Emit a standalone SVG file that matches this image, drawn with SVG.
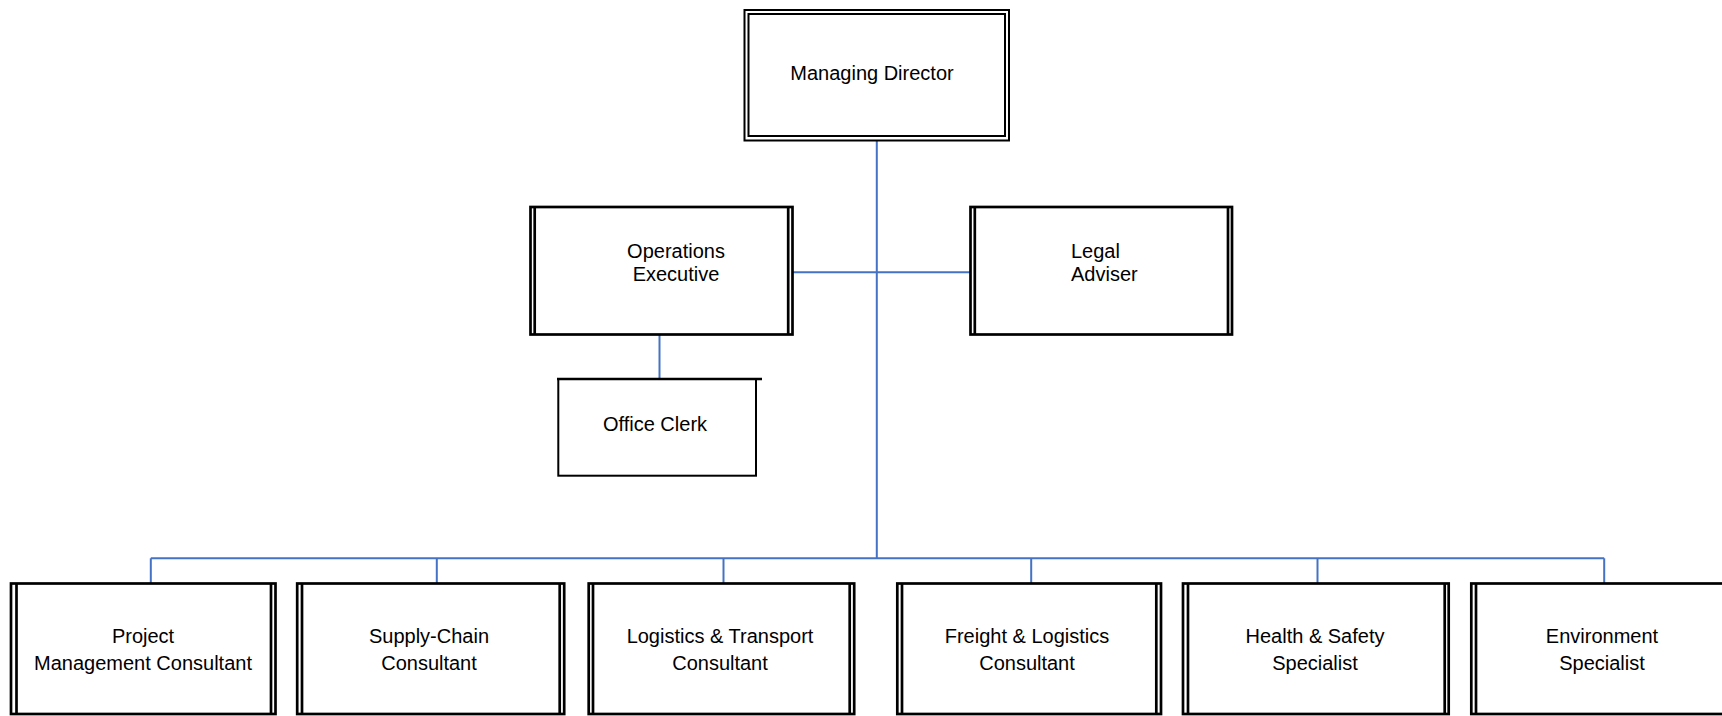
<svg xmlns="http://www.w3.org/2000/svg" width="1722" height="716" viewBox="0 0 1722 716">
<style>
.bx{fill:#fff;stroke:#000;stroke-width:2.7}
.ln{stroke:#000;stroke-width:2.7}
.thin{fill:none;stroke:#000;stroke-width:2}
.c{fill:none;stroke:#4472C4;stroke-width:2}
text{font-family:"Liberation Sans",Arial,sans-serif;font-size:20px;fill:#000}
.m{text-anchor:middle}
</style>
<rect width="1722" height="716" fill="#fff"/>
<g id="connectors">
<line class="c" x1="876.8" y1="141" x2="876.8" y2="559"/>
<line class="c" x1="793" y1="272.3" x2="970" y2="272.3" stroke-width="2.7"/>
<line class="c" x1="659.5" y1="335" x2="659.5" y2="378" stroke-width="2.4"/>
<line class="c" x1="150.8" y1="558.3" x2="1604.2" y2="558.3"/>
<line class="c" x1="150.8" y1="558.3" x2="150.8" y2="583"/>
<line class="c" x1="436.8" y1="558.3" x2="436.8" y2="583"/>
<line class="c" x1="723.5" y1="558.3" x2="723.5" y2="583"/>
<line class="c" x1="1031.2" y1="558.3" x2="1031.2" y2="583"/>
<line class="c" x1="1317.5" y1="558.3" x2="1317.5" y2="583"/>
<line class="c" x1="1604.2" y1="558.3" x2="1604.2" y2="583"/>
</g>
<g id="managing-director">
<rect x="744.5" y="10" width="264.5" height="130.5" fill="#fff" stroke="#000" stroke-width="2"/>
<rect x="748.5" y="14" width="256.5" height="122" class="thin"/>
<text class="m" x="872" y="80">Managing Director</text>
</g>
<g id="operations-executive">
<rect class="bx" x="530.5" y="207" width="262" height="127.5"/>
<line class="ln" x1="534.7" y1="207" x2="534.7" y2="334.5"/>
<line class="ln" x1="788.2" y1="207" x2="788.2" y2="334.5"/>
<text class="m" x="676" y="258">Operations</text>
<text class="m" x="676" y="281">Executive</text>
</g>
<g id="legal-adviser">
<rect class="bx" x="970.5" y="207" width="261.5" height="127.5"/>
<line class="ln" x1="974.8" y1="207" x2="974.8" y2="334.5"/>
<line class="ln" x1="1228" y1="207" x2="1228" y2="334.5"/>
<text x="1071" y="258">Legal</text>
<text x="1071" y="281">Adviser</text>
</g>
<g id="office-clerk">
<rect x="558.3" y="379" width="197.7" height="96.7" fill="#fff" stroke="#000" stroke-width="2"/>
<line class="ln" x1="557" y1="379" x2="762" y2="379"/>
<text class="m" x="655" y="431">Office Clerk</text>
</g>
<g id="project-management-consultant">
<rect class="bx" x="11" y="583.5" width="264.5" height="130.5"/>
<line class="ln" x1="16.5" y1="583.5" x2="16.5" y2="714"/>
<line class="ln" x1="271" y1="583.5" x2="271" y2="714"/>
<text class="m" x="143" y="643">Project</text>
<text class="m" x="143" y="670">Management Consultant</text>
</g>
<g id="supply-chain-consultant">
<rect class="bx" x="297.2" y="583.5" width="267" height="130.5"/>
<line class="ln" x1="302" y1="583.5" x2="302" y2="714"/>
<line class="ln" x1="559.7" y1="583.5" x2="559.7" y2="714"/>
<text class="m" x="429" y="643">Supply-Chain</text>
<text class="m" x="429" y="670">Consultant</text>
</g>
<g id="logistics-transport-consultant">
<rect class="bx" x="588.7" y="583.5" width="265.5" height="130.5"/>
<line class="ln" x1="593" y1="583.5" x2="593" y2="714"/>
<line class="ln" x1="849.7" y1="583.5" x2="849.7" y2="714"/>
<text class="m" x="720" y="643">Logistics &amp; Transport</text>
<text class="m" x="720" y="670">Consultant</text>
</g>
<g id="freight-logistics-consultant">
<rect class="bx" x="897.3" y="583.5" width="263.7" height="130.5"/>
<line class="ln" x1="902" y1="583.5" x2="902" y2="714"/>
<line class="ln" x1="1156.3" y1="583.5" x2="1156.3" y2="714"/>
<text class="m" x="1027" y="643">Freight &amp; Logistics</text>
<text class="m" x="1027" y="670">Consultant</text>
</g>
<g id="health-safety-specialist">
<rect class="bx" x="1183" y="583.5" width="265.7" height="130.5"/>
<line class="ln" x1="1188" y1="583.5" x2="1188" y2="714"/>
<line class="ln" x1="1444.7" y1="583.5" x2="1444.7" y2="714"/>
<text class="m" x="1315" y="643">Health &amp; Safety</text>
<text class="m" x="1315" y="670">Specialist</text>
</g>
<g id="environment-specialist">
<rect class="bx" x="1471.3" y="583.5" width="266" height="130.5"/>
<line class="ln" x1="1476" y1="583.5" x2="1476" y2="714"/>
<line class="ln" x1="1733" y1="583.5" x2="1733" y2="714"/>
<text class="m" x="1602" y="643">Environment</text>
<text class="m" x="1602" y="670">Specialist</text>
</g>
</svg>
